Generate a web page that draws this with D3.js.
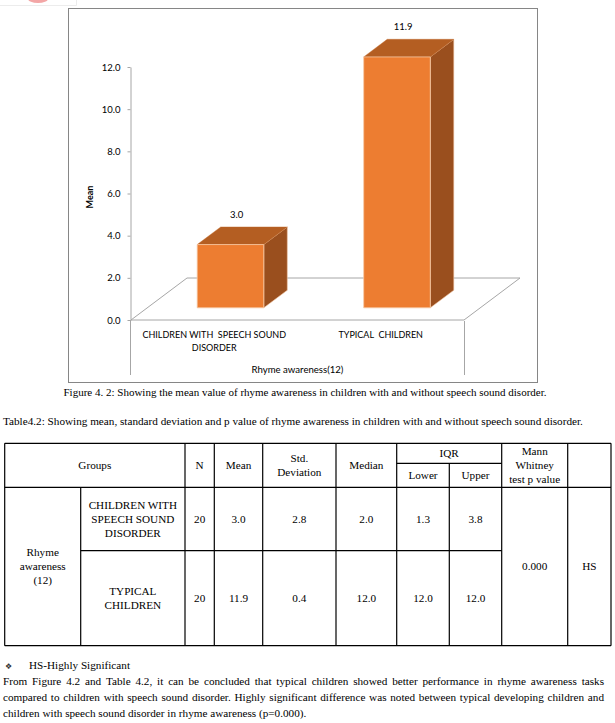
<!DOCTYPE html>
<html><head><meta charset="utf-8">
<script src="https://cdn.jsdelivr.net/npm/d3@7"></script>
<style>body{margin:0;background:#fff}svg{display:block}</style>
</head><body>
<script>
// ---- data ----
const categories = ["CHILDREN WITH  SPEECH SOUND DISORDER", "TYPICAL  CHILDREN"];
const categoryLines = [["CHILDREN WITH  SPEECH SOUND", "DISORDER"], ["TYPICAL  CHILDREN"]];
const means = [3.0, 11.9];
const yTicks = [0, 2, 4, 6, 8, 10, 12];
const axisTitle = "Rhyme awareness(12)";
const yTitle = "Mean";

const tableGroupLines = [["CHILDREN WITH", "SPEECH SOUND", "DISORDER"], ["TYPICAL", "CHILDREN"]];
const tableN = [20, 20];
const tableMean = [3.0, 11.9];
const tableSD = [2.8, 0.4];
const tableMedian = [2.0, 12.0];
const tableLower = [1.3, 12.0];
const tableUpper = [3.8, 12.0];
const pValue = "0.000";
const significance = "HS";

const figCaption = "Figure 4. 2: Showing the mean value of rhyme awareness in children with and without speech sound disorder.";
const tableCaption = "Table4.2: Showing mean, standard deviation and p value of rhyme awareness in children with and without speech sound disorder.";
const noteText = "HS-Highly Significant";
const paraLines = [
  "From Figure 4.2 and Table 4.2, it can be concluded that typical children showed better performance in rhyme awareness tasks",
  "compared to children with speech sound disorder. Highly significant difference was noted between typical developing children and",
  "children with speech sound disorder in rhyme awareness (p=0.000)."
];

// ---- setup ----
const W = 615, H = 723;
const svg = d3.select("body").append("svg").attr("width", W).attr("height", H);
const SANS = "Lato, 'Open Sans', sans-serif";
const SERIF = "'Liberation Serif', 'Times New Roman', serif";
const FS = 11.2;

// top-left artifact
svg.append("ellipse").attr("cx", 38).attr("cy", -1).attr("rx", 10).attr("ry", 4).attr("fill", "#f3a6a6");
svg.append("path").attr("d", "M0,5.5H76.5V0").attr("fill", "none").attr("stroke", "#ececec");

// chart frame
svg.append("rect").attr("x", 68.5).attr("y", 8.5).attr("width", 469).attr("height", 374)
  .attr("fill", "#fff").attr("stroke", "#868686");

const x = d3.scaleBand().domain(categories).range([131, 464]);
const y = d3.scaleLinear().domain([0, 12]).range([320, 67]);
const DX = 56, DY = -42;
const P = (xx, v, d) => [xx + d * DX, y(v) + d * DY];
const poly = pts => "M" + pts.map(p => p.join(",")).join("L") + "Z";

// floor
svg.append("path")
  .attr("d", poly([P(131, 0, 0), P(464, 0, 0), P(464, 0, 1), P(131, 0, 1)]))
  .attr("fill", "none").attr("stroke", "#a6a6a6").attr("stroke-width", 1);

// y axis
const ya = svg.append("g").attr("transform", "translate(130.5,0)")
  .call(d3.axisLeft(y).tickValues(yTicks).tickSize(3).tickSizeOuter(0).tickPadding(7).tickFormat(d3.format(".1f")));
ya.select(".domain").attr("stroke", "#a6a6a6");
ya.selectAll(".tick line").attr("stroke", "#a6a6a6");
ya.selectAll(".tick text").attr("font-family", SANS).attr("font-size", 9.5).attr("fill", "#000");

// category axis box lines
svg.append("path").attr("d", "M130.5,320V375M464.5,321V375").attr("stroke", "#a6a6a6").attr("fill", "none");

// bars
const bw = x.bandwidth();
const d0 = 0.29, d1 = 0.71;
const bars = svg.append("g");
categories.forEach((cat, i) => {
  const c = x(cat) + bw / 2, x0 = c - 0.2 * bw, x1 = c + 0.2 * bw, v = means[i];
  bars.append("path").attr("d", poly([P(x1, 0, d0), P(x1, 0, d1), P(x1, v, d1), P(x1, v, d0)]))
    .attr("fill", "#9a4f1e").attr("stroke", "#f2c7a6").attr("stroke-width", 0.6);
  bars.append("path").attr("d", poly([P(x0, v, d0), P(x1, v, d0), P(x1, v, d1), P(x0, v, d1)]))
    .attr("fill", "#b45e22").attr("stroke", "#c26a2c").attr("stroke-width", 0.4);
  bars.append("path").attr("d", poly([P(x0, 0, d0), P(x1, 0, d0), P(x1, v, d0), P(x0, v, d0)]))
    .attr("fill", "#ed7d31").attr("stroke", "#f6c9a6").attr("stroke-width", 0.8);
  svg.append("text").attr("x", c + 0.4 * DX).attr("y", y(v) + d1 * DY - 9)
    .attr("text-anchor", "middle").attr("font-family", SANS).attr("font-size", 9.5).text(d3.format(".1f")(v));
  categoryLines[i].forEach((ln, j) => {
    svg.append("text").attr("x", c).attr("y", 337.5 + j * 13.7).attr("text-anchor", "middle")
      .attr("font-family", SANS).attr("font-size", 9).style("white-space", "pre").text(ln);
  });
});
svg.append("text").attr("x", 297.5).attr("y", 372.5).attr("text-anchor", "middle")
  .attr("font-family", SANS).attr("font-size", 9.6).text(axisTitle);
svg.append("text").attr("transform", "translate(93,197) rotate(-90)").attr("text-anchor", "middle")
  .attr("font-family", SANS).attr("font-size", 9).attr("font-weight", "bold").text(yTitle);

// captions
svg.append("text").attr("x", 305).attr("y", 395.5).attr("text-anchor", "middle")
  .attr("font-family", SERIF).attr("font-size", 11).text(figCaption);
svg.append("text").attr("x", 3).attr("y", 424.5)
  .attr("font-family", SERIF).attr("font-size", FS).text(tableCaption);

// table
const cols = [4.7, 80.7, 185, 214.3, 262.7, 336, 396.7, 449.3, 501.7, 567.7, 611];
const rows = [443.3, 463.3, 487.3, 550.7, 645.7];
const tg = svg.append("g").attr("stroke", "#000").attr("stroke-width", 1.2).attr("fill", "none");
const L = (x1, y1, x2, y2) => tg.append("line").attr("x1", x1).attr("y1", y1).attr("x2", x2).attr("y2", y2);
L(cols[0], rows[0], cols[10], rows[0]);
L(cols[0], rows[2], cols[10], rows[2]);
L(cols[0], rows[4], cols[10], rows[4]);
L(cols[6], rows[1], cols[8], rows[1]);
L(cols[1], rows[3], cols[8], rows[3]);
[0, 2, 3, 4, 5, 6, 8, 9, 10].forEach(k => L(cols[k], rows[0], cols[k], rows[4]));
L(cols[1], rows[2], cols[1], rows[4]);
L(cols[7], rows[1], cols[7], rows[4]);

const TT = (cx, cy, lines, lh = 14) => {
  const n = lines.length;
  lines.forEach((ln, j) => {
    svg.append("text").attr("x", cx).attr("y", cy + (j - (n - 1) / 2) * lh + 3.9)
      .attr("text-anchor", "middle").attr("font-family", SERIF).attr("font-size", FS).text(ln);
  });
};
const mid = (a, b) => (a + b) / 2;
const hy = mid(rows[0], rows[2]);
TT(mid(cols[0], cols[2]), hy, ["Groups"]);
TT(mid(cols[2], cols[3]), hy, ["N"]);
TT(mid(cols[3], cols[4]), hy, ["Mean"]);
TT(mid(cols[4], cols[5]), hy, ["Std.", "Deviation"]);
TT(mid(cols[5], cols[6]), hy, ["Median"]);
TT(mid(cols[6], cols[8]), mid(rows[0], rows[1]), ["IQR"]);
TT(mid(cols[6], cols[7]), mid(rows[1], rows[2]), ["Lower"]);
TT(mid(cols[7], cols[8]), mid(rows[1], rows[2]), ["Upper"]);
TT(mid(cols[8], cols[9]), hy, ["Mann", "Whitney", "test p value"], 13.8);
TT(mid(cols[0], cols[1]), mid(rows[2], rows[4]), ["Rhyme", "awareness", "(12)"]);
const f1 = d3.format(".1f");
[0, 1].forEach(i => {
  const ry = mid(rows[2 + i], rows[3 + i]);
  TT(mid(cols[1], cols[2]), ry, tableGroupLines[i]);
  TT(mid(cols[2], cols[3]), ry, [String(tableN[i])]);
  TT(mid(cols[3], cols[4]), ry, [f1(tableMean[i])]);
  TT(mid(cols[4], cols[5]), ry, [f1(tableSD[i])]);
  TT(mid(cols[5], cols[6]), ry, [f1(tableMedian[i])]);
  TT(mid(cols[6], cols[7]), ry, [f1(tableLower[i])]);
  TT(mid(cols[7], cols[8]), ry, [f1(tableUpper[i])]);
});
TT(mid(cols[8], cols[9]), mid(rows[2], rows[4]), [pValue]);
TT(mid(cols[9], cols[10]), mid(rows[2], rows[4]), [significance]);

// notes
svg.append("text").attr("x", 5).attr("y", 668.5).attr("font-family", "'DejaVu Sans', sans-serif")
  .attr("font-size", 8).attr("fill", "#333").text("\u2756");
svg.append("text").attr("x", 29).attr("y", 669).attr("font-family", SERIF).attr("font-size", FS).text(noteText);

// justified paragraph
const left = 3, right = 604;
paraLines.forEach((ln, j) => {
  const yy = 685 + j * 16;
  const words = ln.split(" ");
  if (j === paraLines.length - 1) {
    svg.append("text").attr("x", left).attr("y", yy).attr("font-family", SERIF).attr("font-size", FS).text(ln);
    return;
  }
  const nodes = words.map(w => svg.append("text").attr("y", yy).attr("font-family", SERIF).attr("font-size", FS).text(w));
  const widths = nodes.map(n => n.node().getComputedTextLength());
  const total = d3.sum(widths);
  const gap = (right - left - total) / (words.length - 1);
  let cx = left;
  nodes.forEach((n, k) => { n.attr("x", cx); cx += widths[k] + gap; });
});
</script>
</body></html>
